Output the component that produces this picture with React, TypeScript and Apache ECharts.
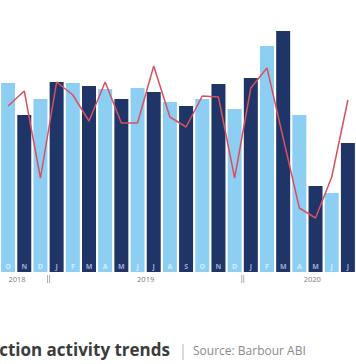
import React, { useEffect, useRef } from "react";
import * as echarts from "echarts";

const categories = [
  "Oct 2018", "Nov 2018", "Dec 2018",
  "Jan 2019", "Feb 2019", "Mar 2019", "Apr 2019", "May 2019", "Jun 2019",
  "Jul 2019", "Aug 2019", "Sep 2019", "Oct 2019", "Nov 2019", "Dec 2019",
  "Jan 2020", "Feb 2020", "Mar 2020", "Apr 2020", "May 2020", "Jun 2020", "Jul 2020",
];

const activityValues = [
  189, 157, 173, 190, 189, 186, 183, 173, 184, 180, 170,
  166, 173, 188, 163, 194, 226, 241, 157, 86, 79, 129,
];

const trendValues = [
  166, 181, 94, 190, 177, 151, 190, 149, 149, 206, 155,
  145, 176, 175, 94, 184, 204, 134, 64, 54, 95, 172,
];

const years = ["2018", "2019", "2020"];
// category index (fractional) at which each year label is centred
const yearLabelIndex = [0.55, 8.5, 18.8];
// year boundaries: between these category indexes
const yearBreakIndex = [2.5, 14.5];

const titleText = "ction activity trends";
const sourceText = "Source: Barbour ABI";

const LIGHT = "#8dcff2";
const DARK = "#1f3467";

export default function App() {
  const ref = useRef<HTMLDivElement>(null);

  useEffect(() => {
    if (!ref.current) return;
    const chart = echarts.init(ref.current, null, { renderer: "svg" });
    const option: any = {
      animation: false,
      grid: { left: -5.5, right: -12.5, top: 0, bottom: 92 },
      xAxis: {
        type: "category",
        data: categories,
        boundaryGap: true,
        axisLine: { show: false },
        axisTick: { show: false },
        axisLabel: {
          inside: true,
          margin: 2,
          interval: 0,
          formatter: (v: string, i: number) =>
            i % 2 === 0 ? `{l|${v.charAt(0)}}` : `{d|${v.charAt(0)}}`,
          rich: {
            l: { color: "#d4edfb", fontSize: 7, fontWeight: "bold", fontFamily: "Open Sans" },
            d: { color: "#9eabc9", fontSize: 7, fontWeight: "bold", fontFamily: "Open Sans" },
          },
        },
        z: 10,
      },
      yAxis: { type: "value", min: 0, max: 272, show: false },
      series: [
        {
          type: "bar",
          barWidth: 14,
          data: activityValues.map((v, i) => ({
            value: v,
            itemStyle: { color: i % 2 === 0 ? LIGHT : DARK },
          })),
          z: 2,
        },
        {
          type: "line",
          data: trendValues,
          showSymbol: false,
          symbol: "none",
          lineStyle: { color: "#d9505f", width: 1.5 },
          z: 3,
        },
      ],
    };
    chart.setOption(option);

    const x0 = chart.convertToPixel({ xAxisIndex: 0 }, 0) as number;
    const x1 = chart.convertToPixel({ xAxisIndex: 0 }, 1) as number;
    const step = x1 - x0;
    const xAt = (idx: number) => x0 + step * idx;

    const graphics: any[] = [];
    years.forEach((y, k) => {
      graphics.push({
        type: "text",
        x: xAt(yearLabelIndex[k]),
        y: 279,
        style: {
          text: y,
          fill: "#7a7a7a",
          font: "7.5px 'Open Sans'",
          textAlign: "center",
          textVerticalAlign: "middle",
        },
      });
    });
    yearBreakIndex.forEach((b) => {
      const bx = xAt(b);
      [-1, 1].forEach((d) => {
        graphics.push({
          type: "line",
          shape: { x1: bx + d, y1: 275, x2: bx + d, y2: 283 },
          style: { stroke: "#9a9a9a", lineWidth: 0.8 },
        });
      });
    });
    graphics.push({
      type: "text",
      x: 170,
      y: 349,
      style: {
        text: titleText,
        fill: "#3c3c3c",
        font: "bold 17px 'Open Sans'",
        textAlign: "right",
        textVerticalAlign: "middle",
      },
    });
    graphics.push({
      type: "line",
      shape: { x1: 183, y1: 344, x2: 183, y2: 360 },
      style: { stroke: "#b5b5b5", lineWidth: 1 },
    });
    graphics.push({
      type: "text",
      x: 193,
      y: 350,
      style: {
        text: sourceText,
        fill: "#8a8a8a",
        font: "12px 'Open Sans'",
        textAlign: "left",
        textVerticalAlign: "middle",
      },
    });
    chart.setOption({ graphic: graphics });

    return () => chart.dispose();
  }, []);

  return (
    <div
      ref={ref}
      style={{ position: "fixed", left: 0, top: 0, width: 356, height: 364, background: "#fff" }}
    />
  );
}
